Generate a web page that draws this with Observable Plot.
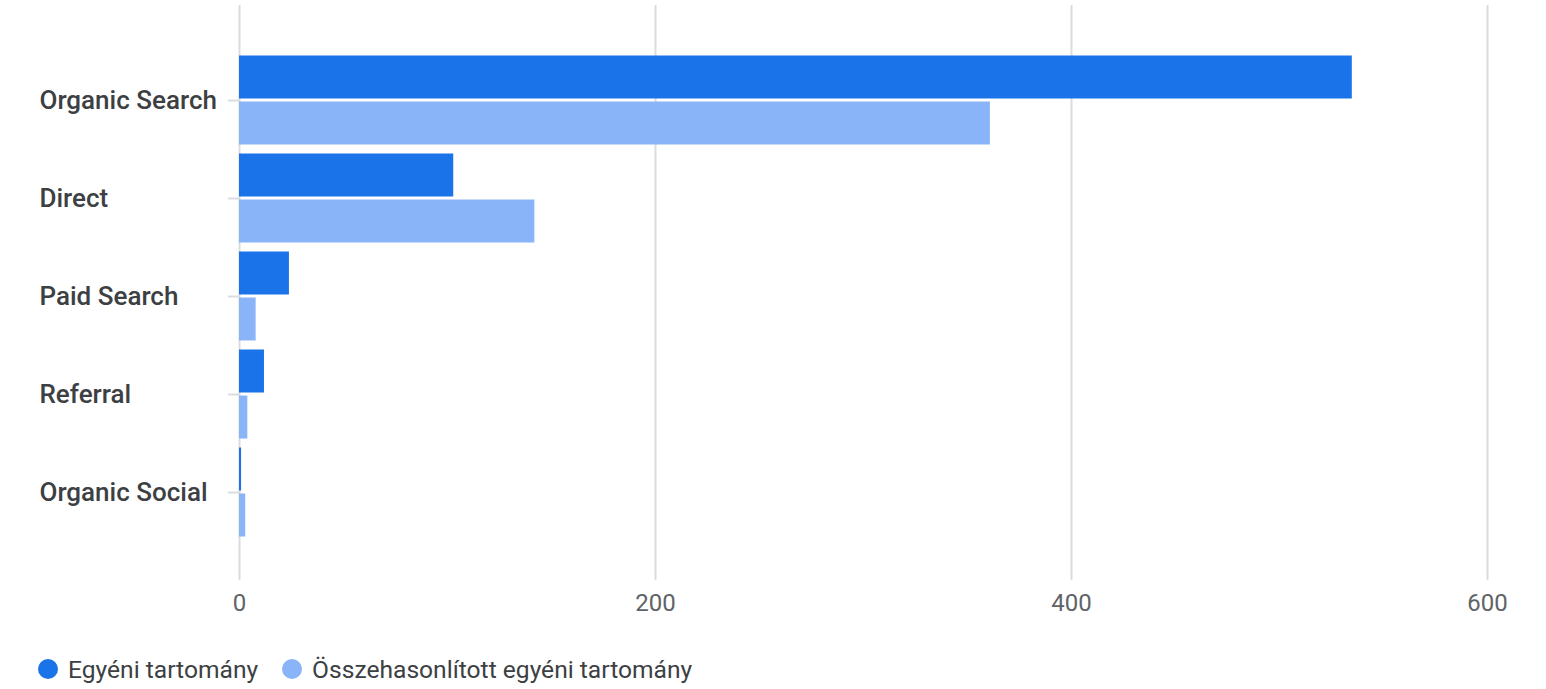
<!DOCTYPE html>
<html>
<head>
<meta charset="utf-8">
<script src="https://cdn.jsdelivr.net/npm/d3@7"></script>
<script src="https://cdn.jsdelivr.net/npm/@observablehq/plot@0.6"></script>
<style>
  html, body { margin: 0; padding: 0; background: #fff; }
  body { width: 1546px; height: 689px; position: relative; overflow: hidden; font-family: Roboto, sans-serif; }
  #legend { position: absolute; left: 38px; top: 655px; height: 28px; display: flex; align-items: center; font-size: 24.6px; color: #3c4043; }
  .item { display: flex; align-items: center; margin-right: 24px; }
  .dot { width: 20px; height: 20px; border-radius: 50%; margin-right: 10px; }
</style>
</head>
<body>
<div id="chart"></div>
<div id="legend"></div>
<script>
const channels = ["Organic Search", "Direct", "Paid Search", "Referral", "Organic Social"];
const current = [535, 103, 24, 12, 1];
const compare = [361, 142, 8, 4, 3];
const xTicks = [0, 200, 400, 600];
const seriesNames = ["Egyéni tartomány", "Összehasonlított egyéni tartomány"];
const seriesColors = ["#1a73e8", "#8ab4f8"];

const dataCur = channels.map((c, i) => ({channel: c, value: current[i]}));
const dataCmp = channels.map((c, i) => ({channel: c, value: compare[i]}));

const chart = Plot.plot({
  width: 1546,
  height: 630,
  marginTop: 5,
  marginBottom: 50,
  marginLeft: 239,
  marginRight: 59,
  style: {fontFamily: "Roboto, sans-serif", background: "#fff"},
  x: {domain: [0, 600]},
  y: {type: "band", domain: channels, range: [50.5, 540.5], padding: 0},
  marks: [
    Plot.gridX({ticks: xTicks, stroke: "#dadce0", strokeOpacity: 1, strokeWidth: 2}),
    Plot.axisX({ticks: xTicks, tickSize: 0, tickPadding: 13, fontSize: 24, fill: "#5f6368", label: null}),
    Plot.axisY({tickSize: 11, tickFormat: () => "", stroke: "#dadce0", strokeWidth: 2, label: null}),
    Plot.axisY({tickSize: 0, tickPadding: 0, textAnchor: "start", dx: -200, fontSize: 26, fontWeight: 500, fill: "#3c4043", label: null}),
    Plot.barX(dataCur, {x: "value", y: "channel", fill: seriesColors[0], insetTop: 4.5, insetBottom: 50.5}),
    Plot.barX(dataCmp, {x: "value", y: "channel", fill: seriesColors[1], insetTop: 50.5, insetBottom: 4.5})
  ]
});
document.getElementById("chart").appendChild(chart);

const legend = document.getElementById("legend");
seriesNames.forEach((n, i) => {
  const item = document.createElement("div");
  item.className = "item";
  const dot = document.createElement("span");
  dot.className = "dot";
  dot.style.background = seriesColors[i];
  const label = document.createElement("span");
  label.textContent = n;
  item.appendChild(dot);
  item.appendChild(label);
  legend.appendChild(item);
});
</script>
</body>
</html>
